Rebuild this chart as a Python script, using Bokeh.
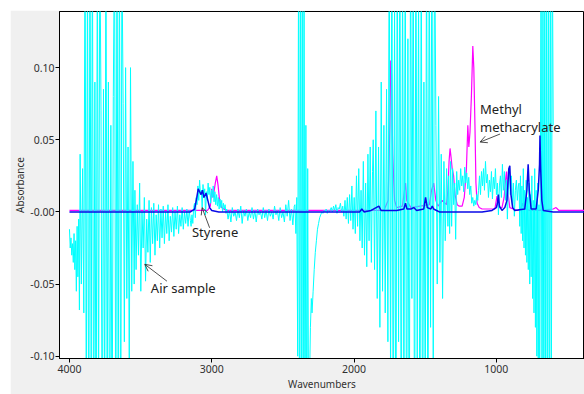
import numpy as np
from bokeh.plotting import figure
from bokeh.models import Range1d, FixedTicker, CustomJSTickFormatter, Arrow, OpenHead, Label
from bokeh.embed import file_html
from bokeh.resources import INLINE

# ---------------- data (wavenumber in cm-1, absorbance in 1e-3 units) ----------------
# Air sample (cyan), read segment by segment: (start, end) and the values along it
air_a_span = (4000, 3930)
air_a = [-12, -25, -18, -30, -22, -35, -15, -40, -20, -55, -10, -45, -5, -68]
air_b_span = (3925, 3545)
air_b = [40, -50, 30, -70,
         200, -150, 180, -200, 200, -120, 200, -200, 90, -200, 200, -150, 200,
         70, -200, 85, -150, 200, -150, 90, -200, 60, -180, 80,
         200, -200, 200, -150, 200, -200, 180,
         75, -90, 100, -60, 45, -110, 100, -55, 35, -50]
air_c_span = (3540, 3150)
air_c = [15, -40, 5, -30, 20, -55, 0, -25, 10, -48, -5, -28, 8, -35, 3, -22, 6, -30, -2, -20, 5,
         -25, 2, -18, 4, -22, 0, -15, 5, -20, -3, -14, 3, -17, 0, -12, 4, -15, -2, -10, 3, -12, 0, -8, 2, -10, 1, -6]
air_d_span = (3145, 2900)
air_d = [-10, -2, -8, 3, 6, -4, 10, 5, 18, 8, 22, 12, 15, 3, 19, 10, 16, -2, 14, 8, 20, 12, 17, 6, 15, 10,
         18, 7, 14, 5, 12, 4, 10, 2, 9, 3, 8, 0, 6, 2, 5, -1]
air_e_span = (2895, 2420)
air_e = [2, -5, 1, -7, 3, -3, 0, -6, 2, -4, 4, -8, 1, -3, 2, -6, 0, -4, 3, -5, 1, -7, 2, -2, 0, -5, 3, -4, 1,
         -6, 2, -3, 0, -5, 4, -2, 1, -6, 3, -4, 0, -7, 5, -3, 8, -6, 2, -9, 4]
air_f_span = (2415, 2300)
air_f = [5, -15, 10, -100, 200, -200, 200, -200, 200, -200, 180, -200, 60, -200, 30, -150, -120, -80, -60]
air_g_span = (2295, 2165)
air_g = [-70, -55, -40, -28, -20, -12, -8, -4, -2, 0, -1, 1, 0, 2, -1, 1, 0, 2]
air_h_span = (2160, 1870)
air_h = [3, 0, 4, 1, 5, -1, 3, 2, 6, 0, 4, -3, 8, -5, 10, -8, 12, -6, 18, -12, 10, -15, 25, -10, 30, -20, 15,
         -25, 35, -30, 20, -38, 40, -20, 45, -35, 28]
air_i_span = (1865, 1340)
air_i = [50, -40, 70, -60, 45, -80, 90, -55, 60, -70, 85, -90,
         200, -120, 200, -200, 150, -200, 200, -90, 200, -200, 180, -150, 200, -200, 120, -200, 200, -60,
         200, -200, 200, -110, 160, -200, 200, -200, 90, -150, 200, -200, 200, -80, 200, -120, 200,
         60, -50, 80, -35, 40, -60, 35, -20, 30, -10]
air_j_span = (1335, 1130)
air_j = [25, -15, 35, -10, 30, 5, 20, -19, 28, 12, 22, 15, 30, 18, 25, 14, 31, 20, 27, 16, 24, 12, 18, 6, 10,
         4, 8, 5, 12, 8]
air_k_span = (1125, 845)
air_k = [15, 25, 12, 28, 18, 30, 15, 35, 20, 26, 10, 22, 14, 28, 9, 24, 16, 30, 12, 20, -2, 18, 25, 10, 33,
         15, 28, 8, 22, -5, 18, 30, 12, 25, 5, 20, -3, 15, 22, 8, 18]
air_l_span = (840, 690)
air_l = [20, -10, 25, -15, 18, -20, 30, -25, 15, -30, 22, -35, 10, -40, 20, -50, 12, -45, 25, -60, 8, -70,
         30, -80, 15, -100, 20, -120, 5, -150, 35]
air_m_span = (685, 600)
air_m = [200, -200, 200, -200, 200, -200, 200, -200, 200, -200, 200, -150, 200, 60]

# Styrene (blue)
sty_wn = [4000, 3150, 3120, 3105, 3095, 3085, 3075, 3065, 3055, 3040, 3030, 3015, 3000, 2950,
          1960, 1945, 1930, 1880, 1825, 1810, 1700, 1650, 1638, 1628, 1600, 1580, 1560, 1510, 1497, 1485,
          1460, 1450, 1440, 1420, 1400, 1100, 1030, 1000, 992, 985, 978, 960, 940, 925, 912, 905, 897, 885,
          870, 800, 785, 776, 768, 755, 720, 705, 696, 693, 688, 680, 670, 600, 380]
sty_abs = [0, 0, 2, 10, 16, 14, 12, 15, 10, 13, 9, 3, 1, 0,
           0, 2, 0, 1, 4, 1, 1, 2, 6, 2, 2, 3, 1, 2, 10, 3,
           2, 4, 2, 1, 0, 0, 1, 3, 6, 12, 4, 1, 3, 8, 30, 32, 12, 3,
           1, 2, 15, 33, 15, 2, 2, 15, 33, 53, 30, 8, 1, 0, 0]

# Methyl methacrylate (magenta)
mma_wn = [4000, 3030, 3010, 3000, 2990, 2975, 2965, 2955, 2945, 2930, 2900,
          1790, 1760, 1748, 1742, 1736, 1728, 1715, 1700, 1660, 1645, 1638, 1630, 1600,
          1470, 1455, 1440, 1425, 1410, 1380, 1350, 1340, 1332, 1325, 1318, 1310, 1300, 1290, 1275,
          1260, 1240, 1225, 1210, 1200, 1193, 1185, 1175, 1165, 1158, 1150, 1143, 1135, 1120, 1100,
          1010, 995, 985, 960, 945, 935, 928, 920, 905, 880, 850, 830, 815, 805, 760, 700, 600, 580,
          570, 560, 380]
mma_abs = [1, 1, 4, 16, 10, 20, 25, 18, 8, 3, 1,
           1, 8, 60, 105, 95, 40, 8, 3, 4, 15, 20, 8, 3,
           5, 15, 20, 8, 4, 8, 5, 15, 35, 44, 38, 30, 25, 12, 5,
           4, 4, 10, 30, 60, 45, 55, 80, 115, 100, 60, 20, 6, 3, 2,
           2, 11, 3, 3, 10, 22, 28, 15, 3, 2, 1, 2, 6, 2, 1, 1, 2, 3,
           2, 1, 1]

x_ticks = [4000, 3000, 2000, 1000]
y_ticks = [-0.10, -0.05, 0.0, 0.05, 0.10]

# ---------------- build air series ----------------
air_spans = [air_a_span, air_b_span, air_c_span, air_d_span, air_e_span, air_f_span, air_g_span,
             air_h_span, air_i_span, air_j_span, air_k_span, air_l_span, air_m_span]
air_vals = [air_a, air_b, air_c, air_d, air_e, air_f, air_g, air_h, air_i, air_j, air_k, air_l, air_m]
air_x, air_y = [], []
for (s, e), vals in zip(air_spans, air_vals):
    air_x.extend(np.linspace(s, e, len(vals)).tolist())
    air_y.extend([v / 1000.0 for v in vals])

p = figure(width=574, height=384, output_backend="svg", toolbar_location=None,
           x_range=Range1d(4070, 380), y_range=Range1d(-0.1016, 0.1389),
           min_border_left=49, min_border_right=0, min_border_top=1, min_border_bottom=36)
p.margin = (10, 0, 0, 10)
p.border_fill_color = "#F0F0F0"
p.background_fill_color = "white"
p.outline_line_color = "black"
p.outline_line_width = 1
p.grid.visible = False

p.line(mma_wn, [v / 1000.0 for v in mma_abs], line_color="#FF00FF", line_width=1.2)
p.line(air_x, air_y, line_color="#00FFFF", line_width=1)
p.line(sty_wn, [v / 1000.0 for v in sty_abs], line_color="#0A0AE6", line_width=1.5)

font = "Noto Sans"
for ax in (p.xaxis[0], p.yaxis[0]):
    ax.axis_line_color = "black"
    ax.major_tick_line_color = "black"
    ax.major_tick_in = 0
    ax.major_tick_out = 4
    ax.minor_tick_line_color = None
    ax.major_label_text_font = font
    ax.major_label_text_font_size = "10.5px"
    ax.major_label_text_color = "#303030"
    ax.axis_label_text_font = font
    ax.axis_label_text_font_size = "10px"
    ax.axis_label_text_font_style = "normal"
    ax.axis_label_text_color = "#303030"

p.xaxis.ticker = FixedTicker(ticks=x_ticks)
p.xaxis.axis_label = "Wavenumbers"
p.xaxis.major_label_standoff = 2
p.xaxis.axis_label_standoff = 1
p.yaxis.ticker = FixedTicker(ticks=y_ticks)
p.yaxis.formatter = CustomJSTickFormatter(code="return Math.abs(tick) < 1e-9 ? '-0.00' : tick.toFixed(2);")
p.yaxis.axis_label = "Absorbance"
p.yaxis.major_label_standoff = 1
p.yaxis.axis_label_standoff = 0

def note(x, y, text):
    p.add_layout(Label(x=x, y=y, text=text, text_font=font, text_font_size="13px",
                       text_color="#222222", text_baseline="middle", text_align="left"))

def arrow(x0, y0, x1, y1):
    p.add_layout(Arrow(end=OpenHead(size=7, line_width=0.8, line_color="#222222"),
                       x_start=x0, y_start=y0, x_end=x1, y_end=y1,
                       line_width=0.8, line_color="#222222"))

note(3139, -0.0142, "Styrene")
arrow(3015, -0.011, 3068, 0.003)
note(3428, -0.053, "Air sample")
arrow(3315, -0.048, 3471, -0.0363)
note(1114, 0.0713, "Methyl")
note(1114, 0.0588, "methacrylate")
arrow(973, 0.054, 1114, 0.0484)

open("out.html", "w").write(file_html(p, INLINE))
